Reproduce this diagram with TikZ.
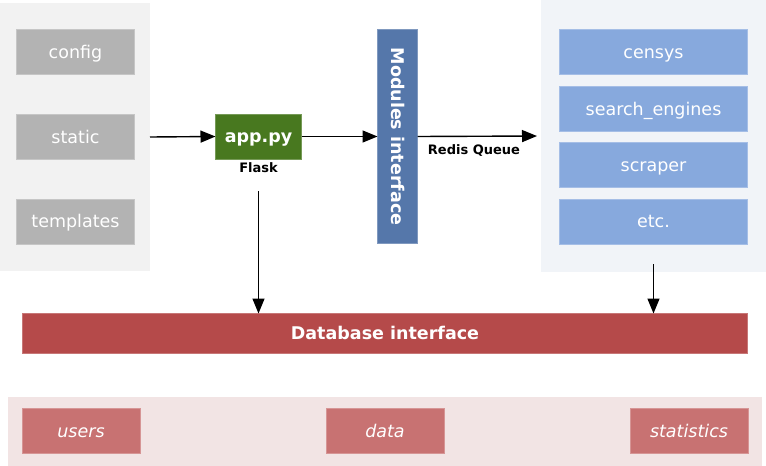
\documentclass[tikz,border=0pt]{standalone}
\usepackage{fontspec}
\setmainfont{DejaVu Sans}
\usetikzlibrary{arrows.meta}
\definecolor{lpanel}{HTML}{F2F2F2}
\definecolor{gbox}{HTML}{B3B3B3}
\definecolor{appgreen}{HTML}{48781F}
\definecolor{modblue}{HTML}{5577AA}
\definecolor{rpanel}{HTML}{F1F4F8}
\definecolor{rbox}{HTML}{87A9DD}
\definecolor{dbred}{HTML}{B54A4A}
\definecolor{bpanel}{HTML}{F2E4E4}
\definecolor{bbox}{HTML}{C87272}

\begin{document}
\begin{tikzpicture}[x=1pt,y=-1pt,
    every node/.style={inner sep=0pt,outer sep=0pt},
    box/.style={fill=#1,draw=#1!75!white,line width=0.8pt,text=white,
        minimum width=118pt,minimum height=45pt,text height=12pt,text depth=0pt,
        font=\fontsize{17.5}{21}\selectfont},
    tag/.style={font=\fontsize{13}{15}\selectfont\bfseries},
    arr/.style={-{Triangle[length=15pt,width=12pt]},line width=1.4pt,color=black}]
                \useasboundingbox (0,0) rectangle (766,466);
                % source files
                \node[fill=lpanel,minimum width=150pt,minimum height=268pt] (src) at (75,137) {};
                \node[box=gbox] (config) at (75.5,52) {config};
                \node[box=gbox] (static) at (75.5,137) {static};
                \node[box=gbox] (templates) at (75.5,221.5) {templates};
                % flask app
                \node[box=appgreen,minimum width=86pt,font=\fontsize{17.5}{21}\selectfont\bfseries] (app) at (258.5,136.5) {app.py};
                \node[tag] (flask) at (258.5,168) {Flask};
                % modules
                \node[box=modblue,rotate=-90,minimum width=214pt,minimum height=40pt,font=\fontsize{17.5}{21}\selectfont\bfseries] (mod) at (397.5,136.5) {Modules interface};
                \node[fill=rpanel,minimum width=225pt,minimum height=272pt] (mods) at (653.5,136) {};
                \node[box=rbox,minimum width=188pt] (censys) at (653.5,52) {censys};
                \node[box=rbox,minimum width=188pt] (search) at (653.5,109) {search\_engines};
                \node[box=rbox,minimum width=188pt] (scraper) at (653.5,165) {scraper};
                \node[box=rbox,minimum width=188pt] (etc) at (653.5,221.5) {etc.};
                \node[tag] (redis) at (474,151) {Redis Queue};
                % database
                \node[box=dbred,minimum width=725pt,minimum height=40pt,font=\fontsize{17.5}{21}\selectfont\bfseries] (db) at (385,333.5) {Database interface};
                \node[fill=bpanel,minimum width=754pt,minimum height=69pt] (tables) at (385,431.5) {};
                \node[box=bbox,font=\fontsize{17.5}{21}\selectfont\itshape] (users) at (81,431) {users};
                \node[box=bbox,font=\fontsize{17.5}{21}\selectfont\itshape] (data) at (385,431) {data};
                \node[box=bbox,font=\fontsize{17.5}{21}\selectfont\itshape] (stats) at (689,431) {statistics};
                % connectors
                \draw[arr] (src.east) -- (app.west);
                \draw[arr] (app.east) -- (mod.south);
                \draw[arr,shorten >=4pt] (mod.north) -- (mods.west);
                \draw[arr] ([yshift=-18pt]flask.south) -- (flask.south |- db.north);
                \draw[arr] ([yshift=8pt]mods.south) -- (mods.south |- db.north);
        \end{tikzpicture}
\end{document}
